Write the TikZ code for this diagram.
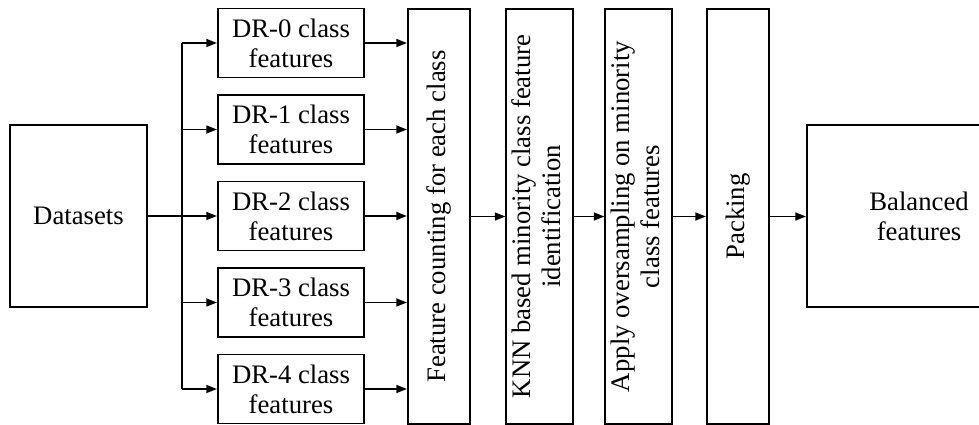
\documentclass[tikz,border=0pt]{standalone}
\usepackage{fontspec}
\setmainfont{Liberation Serif}
\usepackage{graphicx}
\usetikzlibrary{arrows.meta,positioning,calc}

\tikzset{
  box/.style={draw, rectangle, align=center, inner sep=2pt, font=\fontsize{19}{21.5}\selectfont},
  drbox/.style={box, minimum width=3.65cm, minimum height=1.725cm},
  tallbox/.style={box, minimum width=1.55cm, minimum height=10.375cm},
  arr/.style={-{Triangle[length=7.5pt,width=5.5pt]}}
}

\begin{document}
\begin{tikzpicture}[x=0.025cm, y=-0.025cm, line width=1.4pt]
    \useasboundingbox (0,0) rectangle (979,425);

    % Input
    \node[box, minimum width=3.425cm, minimum height=4.55cm] (data) at (78.5,216) {Datasets};
    \coordinate (split) at (182,216);

    % Per-class features
    \foreach \i/\y in {0/43,1/129.5,2/216,3/302.5,4/389}
        \node[drbox] (dr\i) at (291,\y) {DR-\i\ class\\features};

    % Processing stages
    \node[tallbox] (count) at (439,216.5) {\rotatebox{90}{Feature counting for each class}};
    \node[tallbox] (knn) at (539.5,216.5) {\rotatebox{90}{\begin{tabular}{@{}c@{}}KNN based minority class feature\\identification\end{tabular}}};
    \node[tallbox] (apply) at (638.5,216.5) {\rotatebox{90}{\begin{tabular}{@{}c@{}}Apply oversampling on minority\\class features\end{tabular}}};
    \node[tallbox] (pack) at (738,216.5) {\rotatebox{90}{Packing}};

    % Output
    \node[box, minimum width=5.6cm, minimum height=4.55cm, anchor=west] (bal) at (806,216) {Balanced\\features};

    % Connectors
    \draw (data.east) -- (split);
    \draw (split |- dr0.west) -- (split |- dr4.west);
    \foreach \i in {0,...,4} {
        \draw[arr] (split |- dr\i.west) -- (dr\i.west);
        \draw[arr] (dr\i.east) -- (dr\i.east -| count.west);
    }
    \draw[arr] (count.east) -- (knn.west);
    \draw[arr] (knn.east) -- (apply.west);
    \draw[arr] (apply.east) -- (pack.west);
    \draw[arr] (pack.east) -- (pack.east -| bal.west);
\end{tikzpicture}
\end{document}
